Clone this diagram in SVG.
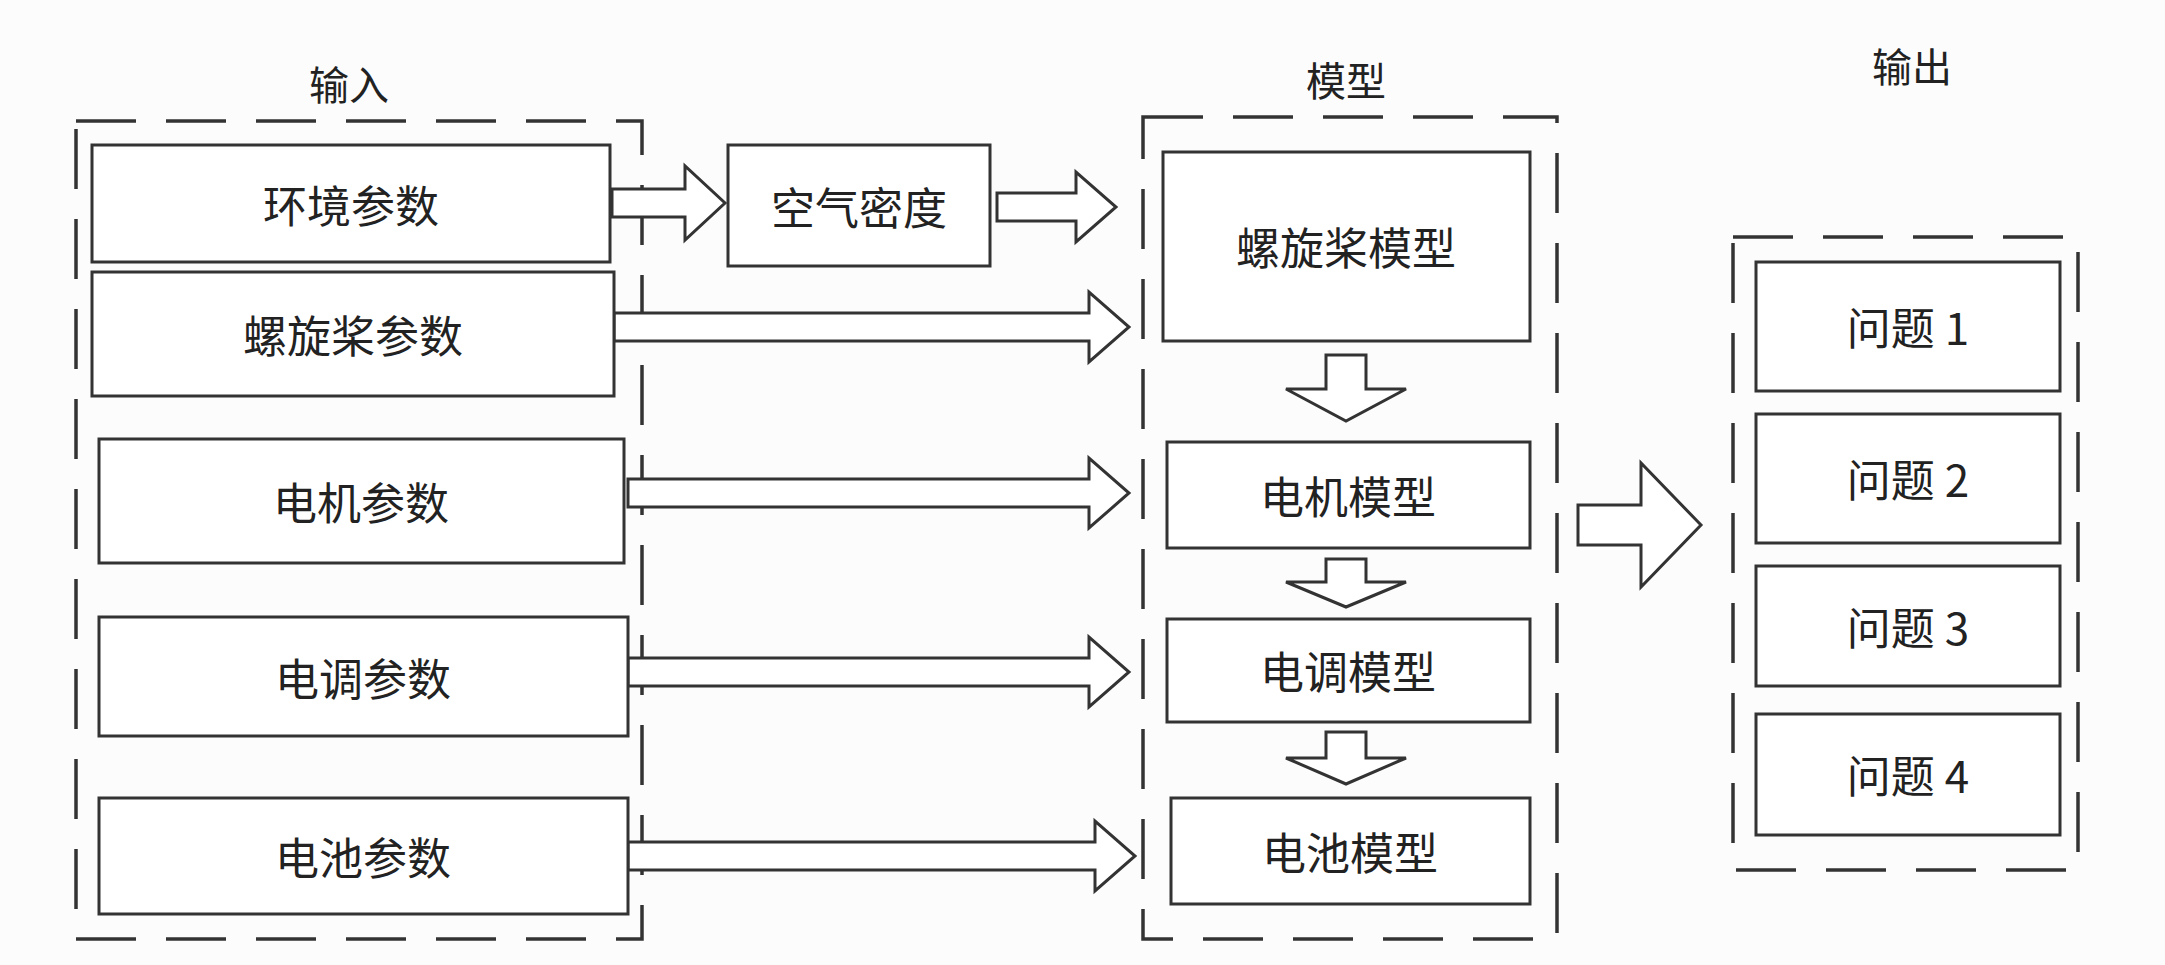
<svg xmlns="http://www.w3.org/2000/svg" width="2165" height="965" viewBox="0 0 2165 965">
<style>
.box{fill:#fff;stroke:#333;stroke-width:3}
.dash{fill:none;stroke:#333;stroke-width:3.5;stroke-dasharray:60 30}
.arr{fill:#fff;stroke:#333;stroke-width:3}
text{font-family:"Noto Sans CJK SC","Liberation Sans",sans-serif;font-size:44px;fill:#222;text-anchor:middle;dominant-baseline:central}
.t{font-size:40px}
</style>
<rect width="2165" height="965" fill="#fcfcfc"/>
<g id="titles">
<text class="t" x="349" y="83">输入</text>
<text class="t" x="1346" y="79">模型</text>
<text class="t" x="1912" y="65">输出</text>
</g>
<g id="groups">
<rect class="dash" x="76" y="121" width="566" height="818"/>
<rect class="dash" x="1143" y="117" width="414" height="822"/>
<rect class="dash" x="1733" y="237" width="345" height="633"/>
</g>
<g id="connectors">
<path class="arr" d="M612,189 H685 V166 L725,203 L685,240 V217 H612 Z"/>
<path class="arr" d="M997,193 H1076 V172 L1116,207 L1076,242 V221 H997 Z"/>
<path class="arr" d="M614,313 H1089 V292 L1129,327 L1089,362 V341 H614 Z"/>
<path class="arr" d="M628,479 H1089 V458 L1129,493 L1089,528 V507 H628 Z"/>
<path class="arr" d="M628,658 H1089 V637 L1129,672 L1089,707 V686 H628 Z"/>
<path class="arr" d="M628,842 H1095 V821 L1135,856 L1095,891 V870 H628 Z"/>
<path class="arr" d="M1326,355 H1366 V389 H1406 L1346,421 L1286,389 H1326 Z"/>
<path class="arr" d="M1326,559 H1366 V582 H1406 L1346,607 L1286,582 H1326 Z"/>
<path class="arr" d="M1326,732 H1366 V758 H1406 L1346,784 L1286,758 H1326 Z"/>
<path class="arr" d="M1578,505 H1641 V463 L1701,525 L1641,587 V545 H1578 Z"/>
</g>
<g id="n1"><rect class="box" x="92" y="145" width="518" height="117"/><text x="351" y="204">环境参数</text></g>
<g id="n2"><rect class="box" x="92" y="272" width="522" height="124"/><text x="353" y="334">螺旋桨参数</text></g>
<g id="n3"><rect class="box" x="99" y="439" width="525" height="124"/><text x="361" y="501">电机参数</text></g>
<g id="n4"><rect class="box" x="99" y="617" width="529" height="119"/><text x="363" y="677">电调参数</text></g>
<g id="n5"><rect class="box" x="99" y="798" width="529" height="116"/><text x="363" y="856">电池参数</text></g>
<g id="n6"><rect class="box" x="728" y="145" width="262" height="121"/><text x="859" y="206">空气密度</text></g>
<g id="m1"><rect class="box" x="1163" y="152" width="367" height="189"/><text x="1346" y="246">螺旋桨模型</text></g>
<g id="m2"><rect class="box" x="1167" y="442" width="363" height="106"/><text x="1348" y="495">电机模型</text></g>
<g id="m3"><rect class="box" x="1167" y="619" width="363" height="103"/><text x="1348" y="670">电调模型</text></g>
<g id="m4"><rect class="box" x="1171" y="798" width="359" height="106"/><text x="1350" y="851">电池模型</text></g>
<g id="o1"><rect class="box" x="1756" y="262" width="304" height="129"/><text x="1908" y="326">问题 1</text></g>
<g id="o2"><rect class="box" x="1756" y="414" width="304" height="129"/><text x="1908" y="478">问题 2</text></g>
<g id="o3"><rect class="box" x="1756" y="566" width="304" height="120"/><text x="1908" y="626">问题 3</text></g>
<g id="o4"><rect class="box" x="1756" y="714" width="304" height="121"/><text x="1908" y="774">问题 4</text></g>
</svg>
